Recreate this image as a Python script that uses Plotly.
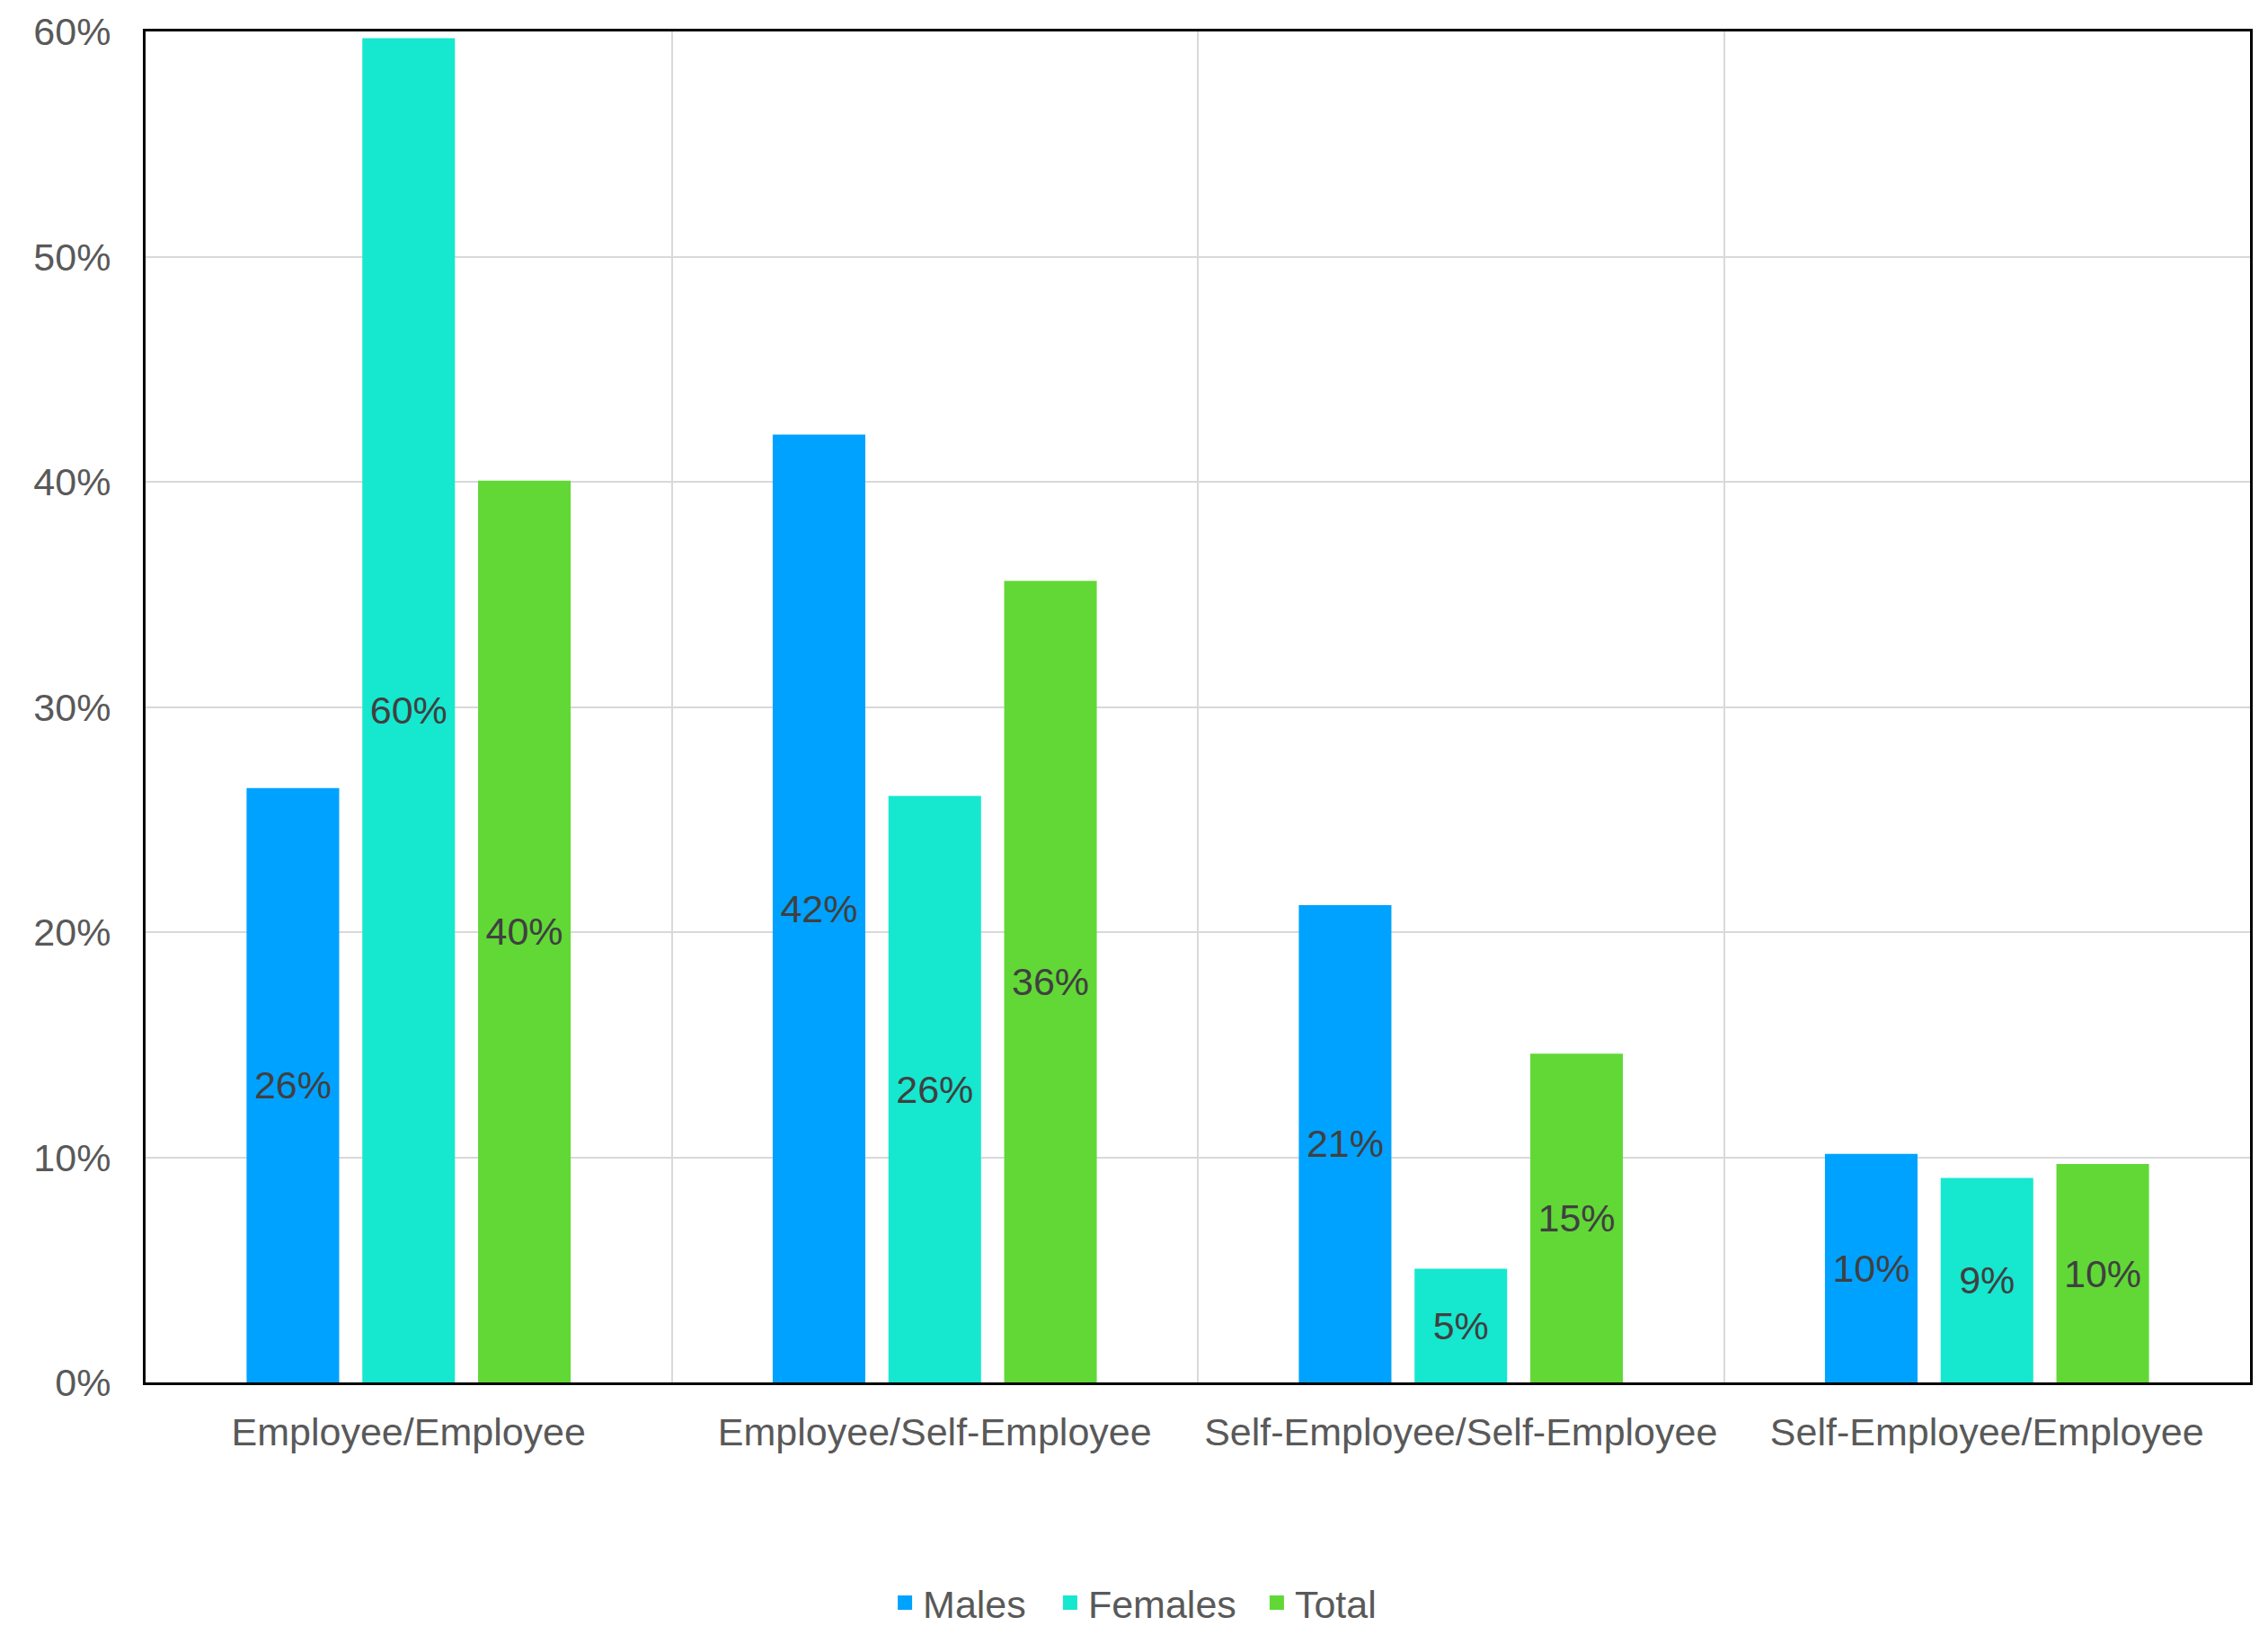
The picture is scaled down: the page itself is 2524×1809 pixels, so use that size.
import plotly.graph_objects as go

categories = ["Employee/Employee", "Employee/Self-Employee",
              "Self-Employee/Self-Employee", "Self-Employee/Employee"]
males = [26.4, 42.1, 21.2, 10.15]
females = [59.7, 26.05, 5.05, 9.08]
total = [40.05, 35.6, 14.6, 9.7]

series = [("Males", males, "#00A2FF"),
          ("Females", females, "#16E7CF"),
          ("Total", total, "#61D836")]

y_ticks = [0, 10, 20, 30, 40, 50, 60]
y_tick_labels = [f"{v}%" for v in y_ticks]

FONT = "Liberation Sans, Arial, sans-serif"
FS = 43

fig = go.Figure()
for name, vals, color in series:
    fig.add_trace(go.Bar(
        name=name, x=categories, y=vals, showlegend=False,
        marker=dict(color=color, line=dict(width=0)),
        texttemplate="%{y:.0f}%", textposition="inside",
        insidetextanchor="middle", textangle=0,
        textfont=dict(family=FONT, size=FS, color="#404040"),
    ))

# one legend per series so the spacing can match the reference
legend_ids = ["legend", "legend2", "legend3"]
legend_x = [0.3523, 0.4308, 0.5290]
for (name, vals, color), lid in zip(series, legend_ids):
    fig.add_trace(go.Scatter(
        name=name, x=[None], y=[None], mode="markers",
        marker=dict(symbol="square", size=16, color=color),
        showlegend=True, hoverinfo="skip", legend=lid,
    ))

legend_common = dict(orientation="h", xanchor="left", y=-0.163,
                     yanchor="middle", bgcolor="rgba(0,0,0,0)",
                     font=dict(family=FONT, size=FS, color="#595959"),
                     itemwidth=30)

fig.update_layout(
    width=2516, height=1801,
    margin=dict(l=154, r=20, t=27, b=271, autoexpand=False),
    paper_bgcolor="white", plot_bgcolor="white",
    barmode="group", bargap=0.34, bargroupgap=0.2,
    uniformtext=dict(minsize=FS, mode="show"),
    font=dict(family=FONT, size=FS, color="#595959"),
    legend=dict(x=legend_x[0], **legend_common),
    legend2=dict(x=legend_x[1], **legend_common),
    legend3=dict(x=legend_x[2], **legend_common),
)
fig.update_xaxes(
    type="category", tickson="boundaries", showgrid=True,
    gridcolor="#d9d9d9", gridwidth=2, ticks="", ticklen=0,
    showline=True, linecolor="black", linewidth=3, mirror=True,
    tickfont=dict(family=FONT, size=FS, color="#595959"),
    ticklabelstandoff=15, automargin=False,
)
fig.update_yaxes(
    range=[0, 60], tickvals=y_ticks, ticktext=y_tick_labels,
    showgrid=True, gridcolor="#d9d9d9", gridwidth=2, zeroline=False,
    showline=True, linecolor="black", linewidth=3, mirror=True,
    ticks="", tickfont=dict(family=FONT, size=FS, color="#595959"),
    ticklabelstandoff=27, automargin=False,
)

fig.write_html("out.html")
